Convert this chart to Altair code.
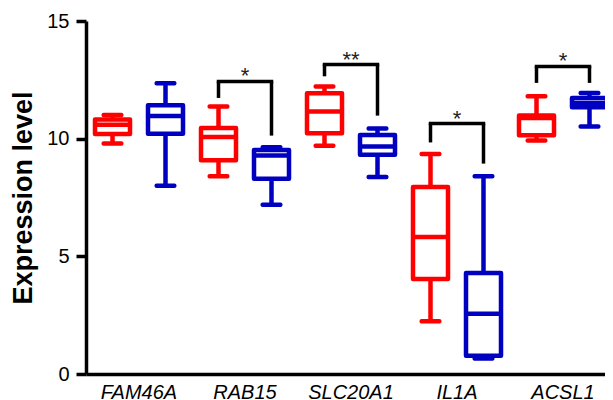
import altair as alt
import pandas as pd

genes = ["FAM46A", "RAB15", "SLC20A1", "IL1A", "ACSL1"]
groups = ["Group 1", "Group 2"]
group_colors = ["#ff0000", "#0000c0"]

# Group 1 (red) box statistics
red_min = [9.79, 8.40, 9.70, 2.24, 9.92]
red_q1 = [10.20, 9.08, 10.23, 4.04, 10.14]
red_med = [10.59, 10.07, 11.15, 5.82, 10.88]
red_q3 = [10.81, 10.45, 11.93, 7.95, 10.98]
red_max = [11.01, 11.37, 12.22, 9.35, 11.80]

# Group 2 (blue) box statistics
blue_min = [8.00, 7.19, 8.37, 0.66, 10.52]
blue_q1 = [10.21, 8.30, 9.32, 0.78, 11.33]
blue_med = [10.96, 9.28, 9.67, 2.56, 11.52]
blue_q3 = [11.42, 9.52, 10.16, 4.29, 11.73]
blue_max = [12.35, 9.63, 10.43, 8.40, 11.94]

# Significance brackets
sig_genes = ["RAB15", "SLC20A1", "IL1A", "ACSL1"]
sig_top = [12.43, 13.15, 10.64, 13.07]
sig_left = [11.73, 12.65, 9.84, 12.37]
sig_right = [10.13, 10.98, 8.94, 12.37]
sig_labels = ["*", "**", "*", "*"]

y_ticks = [0, 5, 10, 15]

rows = []
for i, g in enumerate(genes):
    rows.append(dict(gene=g, group=groups[0], lo=red_min[i], q1=red_q1[i],
                     med=red_med[i], q3=red_q3[i], hi=red_max[i]))
    rows.append(dict(gene=g, group=groups[1], lo=blue_min[i], q1=blue_q1[i],
                     med=blue_med[i], q3=blue_q3[i], hi=blue_max[i]))
box_df = pd.DataFrame(rows)

leg_rows = []
for i, g in enumerate(sig_genes):
    leg_rows.append(dict(gene=g, group=groups[0], a=sig_left[i], b=sig_top[i]))
    leg_rows.append(dict(gene=g, group=groups[1], a=sig_right[i], b=sig_top[i]))
leg_df = pd.DataFrame(leg_rows)
sig_df = pd.DataFrame(dict(gene=sig_genes, top=sig_top, label=sig_labels))

xscale = alt.Scale(domain=genes, range=[0, 530], paddingInner=0, paddingOuter=0)
yscale = alt.Scale(domain=[0, 15], nice=False)
ytitle = "Expression level"
yaxis = alt.Axis(values=y_ticks)

X = alt.X("gene:N", scale=xscale, title=None)
XO = alt.XOffset("group:N", sort=groups, scale=alt.Scale(paddingInner=0, paddingOuter=0))
C = alt.Color("group:N", scale=alt.Scale(domain=groups, range=group_colors), legend=None)
S = alt.Stroke("group:N", scale=alt.Scale(domain=groups, range=group_colors), legend=None)

def Y(f):
    return alt.Y(f, scale=yscale, axis=yaxis, title=ytitle)

base = alt.Chart(box_df)
w_lo = base.mark_rule(strokeWidth=4.5).encode(x=X, xOffset=XO, color=C, y=Y("lo:Q"), y2="q1:Q")
w_hi = base.mark_rule(strokeWidth=4.5).encode(x=X, xOffset=XO, color=C, y=Y("q3:Q"), y2="hi:Q")
box = base.mark_bar(size=35, fill="white", strokeWidth=4.5, strokeJoin="round", opacity=1).encode(
    x=X, xOffset=XO, stroke=S, y=Y("q1:Q"), y2="q3:Q")
med = base.mark_tick(size=35, thickness=4.5, opacity=1).encode(x=X, xOffset=XO, color=C, y=Y("med:Q"))
cap_lo = base.mark_tick(size=22, thickness=4.5, cornerRadius=2, opacity=1).encode(
    x=X, xOffset=XO, color=C, y=Y("lo:Q"))
cap_hi = base.mark_tick(size=22, thickness=4.5, cornerRadius=2, opacity=1).encode(
    x=X, xOffset=XO, color=C, y=Y("hi:Q"))

legs = alt.Chart(leg_df).mark_rule(strokeWidth=3.5, color="black").encode(
    x=X, xOffset=XO, y=Y("a:Q"), y2="b:Q")
bar_top = alt.Chart(sig_df).mark_tick(size=56.5, thickness=3.5, color="black", opacity=1).encode(
    x=X, y=Y("top:Q"))
stars = alt.Chart(sig_df).mark_text(fontSize=22, font="Liberation Sans", baseline="alphabetic",
                                    dy=2, color="#222222").encode(
    x=X, y=Y("top:Q"), text="label:N")

chart = alt.layer(w_lo, w_hi, box, med, cap_lo, cap_hi, legs, bar_top, stars).properties(
    width=519, height=353,
    autosize=alt.AutoSizeParams(type="none"),
    padding={"left": 78, "top": 13, "right": 0, "bottom": 26},
).configure_view(stroke=None).configure_axis(
    domainColor="black", domainWidth=3.5, tickColor="black", tickWidth=3.5,
    labelColor="black", titleColor="black", labelFont="Liberation Sans",
    titleFont="Liberation Sans", grid=False,
).configure_axisY(
    tickSize=10, labelFontSize=20, labelPadding=7, titleFontSize=27,
    titleFontWeight="bold", titlePadding=9,
).configure_axisX(
    ticks=False, labelFontSize=20, labelFontStyle="italic", labelAngle=0, labelPadding=8,
)

chart.save("out.html", embed_options={"renderer": "svg", "actions": False})
